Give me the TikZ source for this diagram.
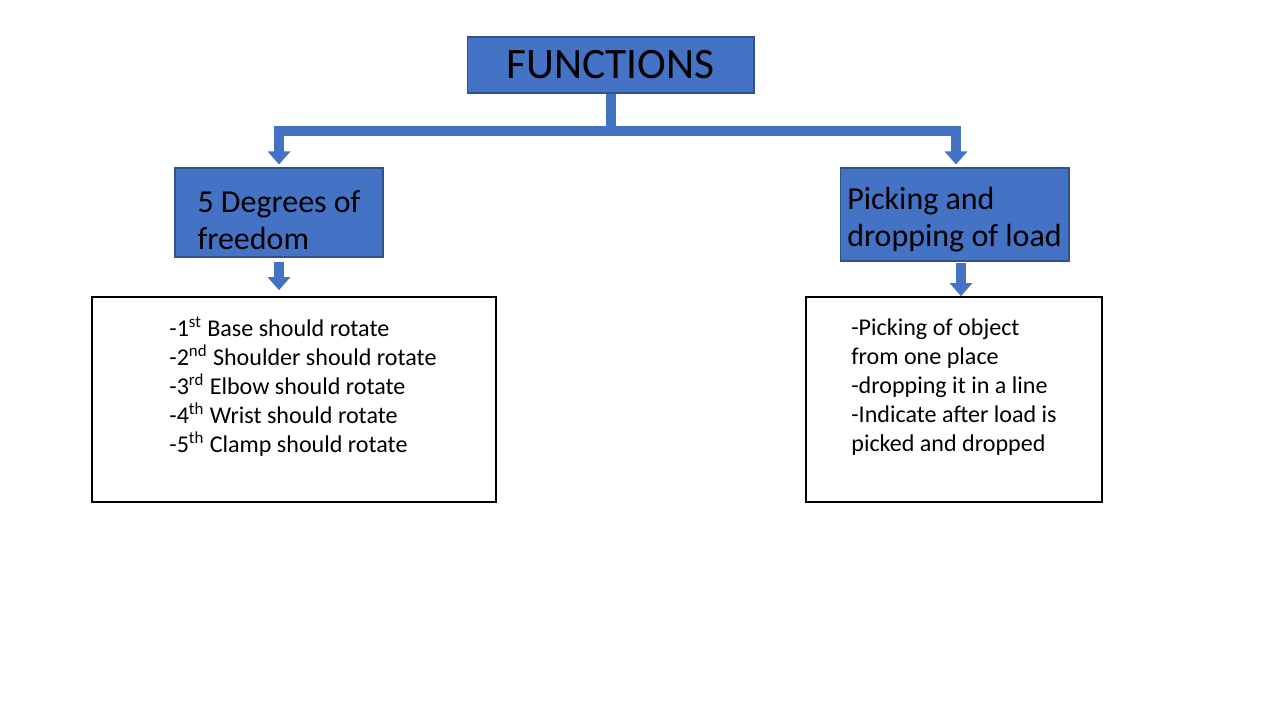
\documentclass[tikz,border=0pt]{standalone}
\usepackage{fontspec}
\setmainfont{Carlito}
\usetikzlibrary{arrows.meta, positioning}

\definecolor{bluefill}{HTML}{4472C4}
\definecolor{blueborder}{HTML}{2F528F}

\begin{document}
\begin{tikzpicture}[
    x=0.02cm, y=-0.02cm,
    head/.style={draw=blueborder, fill=bluefill, line width=0.6pt, align=left, inner sep=0pt},
    topic/.style={head, font=\fontsize{18.2}{21}\selectfont},
    listbox/.style={draw=black, line width=1pt, align=left, inner sep=0pt, font=\fontsize{13.7}{16.5}\selectfont},
    flow/.style={draw=bluefill, line width=0.2cm, line join=miter, -{Triangle[width=0.44cm, length=0.26cm]}},
    pipe/.style={draw=bluefill, line width=0.2cm},
]
\useasboundingbox (0,0) rectangle (1280,720);

% Title
\node[head, minimum width=5.74cm, minimum height=1.12cm, font=\fontsize{24.7}{30}\selectfont] (title) at (610.5, 65) {FUNCTIONS};

% Branches
\node[topic, minimum width=4.16cm, minimum height=1.78cm] (dof) at (279, 212.5) {\rule{0pt}{0.74cm}5 Degrees of\\freedom};
\node[topic, minimum width=4.58cm, minimum height=1.86cm] (pick) at (954.5, 214.5) {\rule{0pt}{0.66cm}Picking and\\dropping of load};

% Details
\node[listbox, minimum width=8.08cm, minimum height=4.1cm] (doflist) at (294, 399.5)
    {\hspace{0.36cm}-1\textsuperscript{st} Base should rotate\\
     \hspace{0.36cm}-2\textsuperscript{nd} Shoulder should rotate\\
     \hspace{0.36cm}-3\textsuperscript{rd} Elbow should rotate\\
     \hspace{0.36cm}-4\textsuperscript{th} Wrist should rotate\\
     \hspace{0.36cm}-5\textsuperscript{th} Clamp should rotate\\ \mbox{}};
\node[listbox, minimum width=5.92cm, minimum height=4.1cm] (picklist) at (954, 399.5)
    {-Picking of object\\
     from one place\\
     -dropping it in a line\\
     -Indicate after load is\\
     picked and dropped\\ \mbox{}};

% Connectors
\coordinate (split) at (610.5, 130.5);
\draw[pipe] (title.south) -- (split);
\draw[flow, shorten >=0.06cm] (split) -| (dof.north);
\draw[flow, shorten >=0.06cm] (split) -| ([xshift=0.03cm]pick.north);
\draw[flow, shorten <=0.08cm, shorten >=0.12cm] (dof.south) -- (doflist.north -| dof.south);
\draw[flow, shorten <=0.02cm] ([xshift=0.13cm]pick.south) -- ([xshift=0.13cm]pick.south |- picklist.north);

\end{tikzpicture}
\end{document}
